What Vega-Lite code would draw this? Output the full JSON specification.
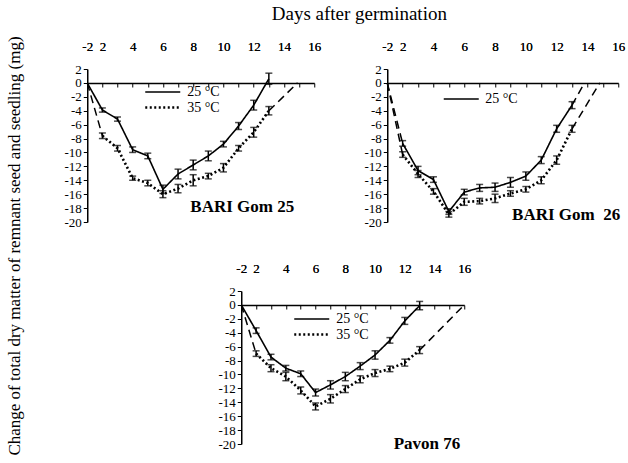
{
  "$schema": "https://vega.github.io/schema/vega-lite/v6.json",
  "padding": {"left": 5, "top": 5, "right": 3, "bottom": 5},
  "config": {
    "font": "Liberation Serif",
    "view": {"stroke": null},
    "axis": {"domainColor": "black", "tickColor": "black", "labelColor": "black", "labelFont": "Liberation Serif", "labelFontSize": 13, "grid": false, "labelOverlap": false, "labelBound": false, "labelFlush": false},
    "legend": {"labelFont": "Liberation Serif", "labelFontSize": 14, "labelColor": "black", "symbolType": "M-2.5,0H2.5", "symbolSize": 196, "symbolStrokeWidth": 2, "symbolStrokeColor": "black", "padding": 0, "rowPadding": 0, "labelOffset": 16, "title": null},
    "title": {"font": "Liberation Serif", "color": "black"}
  },
  "datasets": {
    "pts": [
      {"panel": "G25", "temp": "25 °C", "day": 1, "val": 0, "err": 0},
      {"panel": "G25", "temp": "25 °C", "day": 2, "val": -3.9, "err": 0.3},
      {"panel": "G25", "temp": "25 °C", "day": 3, "val": -5.2, "err": 0.3},
      {"panel": "G25", "temp": "25 °C", "day": 4, "val": -9.6, "err": 0.4},
      {"panel": "G25", "temp": "25 °C", "day": 5, "val": -10.5, "err": 0.4},
      {"panel": "G25", "temp": "25 °C", "day": 6, "val": -15.3, "err": 0.6},
      {"panel": "G25", "temp": "25 °C", "day": 7, "val": -13.1, "err": 0.7},
      {"panel": "G25", "temp": "25 °C", "day": 8, "val": -11.8, "err": 0.7},
      {"panel": "G25", "temp": "25 °C", "day": 9, "val": -10.5, "err": 0.7},
      {"panel": "G25", "temp": "25 °C", "day": 10, "val": -8.8, "err": 0.4},
      {"panel": "G25", "temp": "25 °C", "day": 11, "val": -6.2, "err": 0.5},
      {"panel": "G25", "temp": "25 °C", "day": 12, "val": -3.2, "err": 0.7},
      {"panel": "G25", "temp": "25 °C", "day": 13, "val": 0.6, "err": 0.8},
      {"panel": "G25", "temp": "35 °C", "day": 2, "val": -7.6, "err": 0.4},
      {"panel": "G25", "temp": "35 °C", "day": 3, "val": -9.4, "err": 0.4},
      {"panel": "G25", "temp": "35 °C", "day": 4, "val": -13.7, "err": 0.3},
      {"panel": "G25", "temp": "35 °C", "day": 5, "val": -14.4, "err": 0.4},
      {"panel": "G25", "temp": "35 °C", "day": 6, "val": -16.0, "err": 0.5},
      {"panel": "G25", "temp": "35 °C", "day": 7, "val": -15.2, "err": 0.6},
      {"panel": "G25", "temp": "35 °C", "day": 8, "val": -14.0, "err": 0.8},
      {"panel": "G25", "temp": "35 °C", "day": 9, "val": -13.4, "err": 0.4},
      {"panel": "G25", "temp": "35 °C", "day": 10, "val": -12.2, "err": 0.6},
      {"panel": "G25", "temp": "35 °C", "day": 11, "val": -9.4, "err": 0.4},
      {"panel": "G25", "temp": "35 °C", "day": 12, "val": -7.1, "err": 0.7},
      {"panel": "G25", "temp": "35 °C", "day": 13, "val": -4.0, "err": 0.6},
      {"panel": "G26", "temp": "25 °C", "day": 2, "val": -8.7, "err": 0.4},
      {"panel": "G26", "temp": "25 °C", "day": 3, "val": -12.6, "err": 0.6},
      {"panel": "G26", "temp": "25 °C", "day": 4, "val": -13.9, "err": 0.4},
      {"panel": "G26", "temp": "25 °C", "day": 5, "val": -18.5, "err": 0.4},
      {"panel": "G26", "temp": "25 °C", "day": 6, "val": -15.7, "err": 0.4},
      {"panel": "G26", "temp": "25 °C", "day": 7, "val": -15.1, "err": 0.5},
      {"panel": "G26", "temp": "25 °C", "day": 8, "val": -15.0, "err": 0.6},
      {"panel": "G26", "temp": "25 °C", "day": 9, "val": -14.3, "err": 0.7},
      {"panel": "G26", "temp": "25 °C", "day": 10, "val": -13.4, "err": 0.6},
      {"panel": "G26", "temp": "25 °C", "day": 11, "val": -11.1, "err": 0.5},
      {"panel": "G26", "temp": "25 °C", "day": 12, "val": -6.6, "err": 0.5},
      {"panel": "G26", "temp": "25 °C", "day": 13, "val": -3.2, "err": 0.5},
      {"panel": "G26", "temp": "35 °C", "day": 2, "val": -10.3, "err": 0.4},
      {"panel": "G26", "temp": "35 °C", "day": 3, "val": -13.1, "err": 0.5},
      {"panel": "G26", "temp": "35 °C", "day": 4, "val": -15.6, "err": 0.4},
      {"panel": "G26", "temp": "35 °C", "day": 5, "val": -18.9, "err": 0.4},
      {"panel": "G26", "temp": "35 °C", "day": 6, "val": -17.1, "err": 0.5},
      {"panel": "G26", "temp": "35 °C", "day": 7, "val": -17.0, "err": 0.4},
      {"panel": "G26", "temp": "35 °C", "day": 8, "val": -16.6, "err": 0.6},
      {"panel": "G26", "temp": "35 °C", "day": 9, "val": -15.9, "err": 0.4},
      {"panel": "G26", "temp": "35 °C", "day": 10, "val": -15.3, "err": 0.4},
      {"panel": "G26", "temp": "35 °C", "day": 11, "val": -14.0, "err": 0.5},
      {"panel": "G26", "temp": "35 °C", "day": 12, "val": -11.1, "err": 0.6},
      {"panel": "G26", "temp": "35 °C", "day": 13, "val": -6.6, "err": 0.5},
      {"panel": "P76", "temp": "25 °C", "day": 1, "val": 0, "err": 0},
      {"panel": "P76", "temp": "25 °C", "day": 2, "val": -3.7, "err": 0.4},
      {"panel": "P76", "temp": "25 °C", "day": 3, "val": -7.5, "err": 0.4},
      {"panel": "P76", "temp": "25 °C", "day": 4, "val": -9.1, "err": 0.4},
      {"panel": "P76", "temp": "25 °C", "day": 5, "val": -9.9, "err": 0.4},
      {"panel": "P76", "temp": "25 °C", "day": 6, "val": -12.6, "err": 0.5},
      {"panel": "P76", "temp": "25 °C", "day": 7, "val": -11.5, "err": 0.6},
      {"panel": "P76", "temp": "25 °C", "day": 8, "val": -10.3, "err": 0.6},
      {"panel": "P76", "temp": "25 °C", "day": 9, "val": -8.8, "err": 0.5},
      {"panel": "P76", "temp": "25 °C", "day": 10, "val": -7.2, "err": 0.6},
      {"panel": "P76", "temp": "25 °C", "day": 11, "val": -5.1, "err": 0.4},
      {"panel": "P76", "temp": "25 °C", "day": 12, "val": -2.3, "err": 0.5},
      {"panel": "P76", "temp": "25 °C", "day": 13, "val": -0.1, "err": 0.6},
      {"panel": "P76", "temp": "35 °C", "day": 2, "val": -7.0, "err": 0.4},
      {"panel": "P76", "temp": "35 °C", "day": 3, "val": -9.1, "err": 0.5},
      {"panel": "P76", "temp": "35 °C", "day": 4, "val": -10.3, "err": 0.6},
      {"panel": "P76", "temp": "35 °C", "day": 5, "val": -12.3, "err": 0.5},
      {"panel": "P76", "temp": "35 °C", "day": 6, "val": -14.6, "err": 0.5},
      {"panel": "P76", "temp": "35 °C", "day": 7, "val": -13.5, "err": 0.6},
      {"panel": "P76", "temp": "35 °C", "day": 8, "val": -12.1, "err": 0.5},
      {"panel": "P76", "temp": "35 °C", "day": 9, "val": -10.7, "err": 0.5},
      {"panel": "P76", "temp": "35 °C", "day": 10, "val": -9.8, "err": 0.5},
      {"panel": "P76", "temp": "35 °C", "day": 11, "val": -9.2, "err": 0.4},
      {"panel": "P76", "temp": "35 °C", "day": 12, "val": -8.3, "err": 0.5},
      {"panel": "P76", "temp": "35 °C", "day": 13, "val": -6.5, "err": 0.5}
    ],
    "ext": [
      {"panel": "G25", "seg": "a", "day": 1, "val": 0},
      {"panel": "G25", "seg": "a", "day": 2, "val": -7.6},
      {"panel": "G25", "seg": "b", "day": 13, "val": -4.0},
      {"panel": "G25", "seg": "b", "day": 14.9, "val": 0},
      {"panel": "G26", "seg": "a", "day": 1, "val": 0},
      {"panel": "G26", "seg": "a", "day": 2, "val": -8.7},
      {"panel": "G26", "seg": "b", "day": 1, "val": 0},
      {"panel": "G26", "seg": "b", "day": 2, "val": -10.3},
      {"panel": "G26", "seg": "c", "day": 13, "val": -3.2},
      {"panel": "G26", "seg": "c", "day": 13.8, "val": 0},
      {"panel": "G26", "seg": "d", "day": 13, "val": -6.6},
      {"panel": "G26", "seg": "d", "day": 14.8, "val": 0},
      {"panel": "P76", "seg": "a", "day": 1, "val": 0},
      {"panel": "P76", "seg": "a", "day": 2, "val": -7.0},
      {"panel": "P76", "seg": "b", "day": 13, "val": -6.5},
      {"panel": "P76", "seg": "b", "day": 16, "val": 0}
    ]
  },
  "title": {"text": "Days after germination", "font": "Liberation Serif", "fontSize": 19, "fontWeight": "normal", "anchor": "middle", "offset": 12, "dx": 44},
  "vconcat": [
    {
      "title": {"text": "Change of total dry matter of remnant seed and seedling (mg)", "font": "Liberation Serif", "orient": "left", "anchor": "middle", "fontSize": 17, "fontWeight": "normal", "offset": 40},
      "spacing": 33,
      "center": true,
      "resolve": {"scale": {"strokeDash": "independent", "strokeWidth": "independent"}, "legend": {"strokeDash": "independent"}},
      "vconcat": [
        {
          "spacing": 42,
          "resolve": {"scale": {"strokeDash": "independent", "strokeWidth": "independent"}, "legend": {"strokeDash": "independent"}},
          "hconcat": [
            {
              "width": 227, "height": 153,
              "title": {"text": "BARI Gom 25", "font": "Liberation Serif", "orient": "bottom", "anchor": "end", "frame": "group", "offset": -30, "dx": -20, "fontSize": 17, "fontWeight": "bold"},
              "encoding": {
                "x": {"field": "day", "type": "quantitative", "scale": {"domain": [1, 16], "nice": false, "zero": false},
                      "axis": {"orient": "top", "title": null, "labelFont": "Liberation Serif", "values": [1, 2, 4, 6, 8, 10, 12, 14, 16], "labelExpr": "datum.value == 1 ? '-2' : '' + datum.value", "ticks": false, "domain": false, "labelPadding": 16}},
                "y": {"field": "val", "type": "quantitative", "scale": {"domain": [-20, 2], "nice": false, "zero": false},
                      "axis": {"title": null, "labelFont": "Liberation Serif", "values": [-20, -18, -16, -14, -12, -10, -8, -6, -4, -2, 0, 2], "labelExpr": "'' + datum.value", "tickSize": 4, "labelPadding": 2, "domainWidth": 1.5}}
              },
              "layer": [
                {
                  "data": {"name": "pts"},
                  "transform": [{"filter": "datum.panel == 'G25'"}],
                  "mark": {"type": "line", "color": "black"},
                  "encoding": {
                    "strokeDash": {"field": "temp", "type": "nominal", "scale": {"domain": ["25 °C", "35 °C"], "range": [[1, 0], [2, 2.5]]},
                                   "legend": {"orient": "none", "legendX": 67, "legendY": 15}},
                    "strokeWidth": {"field": "temp", "type": "ordinal", "scale": {"domain": ["25 °C", "35 °C"], "range": [1.6, 2.6]}, "legend": null}
                  }
                },
                {
                  "data": {"name": "pts"},
                  "transform": [{"filter": "datum.panel == 'G25' && datum.err > 0"}],
                  "mark": {"type": "errorbar", "ticks": {"size": 7}, "thickness": 1.5, "color": "black"},
                  "encoding": {"yError": {"field": "err"}}
                },
                {
                  "data": {"name": "ext"},
                  "transform": [{"filter": "datum.panel == 'G25'"}],
                  "mark": {"type": "line", "color": "black", "strokeWidth": 1.5, "strokeDash": [8, 5]},
                  "encoding": {
                    "x": {"field": "day", "type": "quantitative", "axis": {"orient": "bottom", "title": null, "offset": -139, "labels": false, "values": [1, 2, 3, 4, 5, 6, 7, 8, 9, 10, 11, 12, 13, 14, 15, 16], "tickSize": 4, "domainWidth": 1.5}},
                    "detail": {"field": "seg"}
                  }
                }
              ]
            },
            {
              "width": 231, "height": 153,
              "title": {"text": "BARI Gom\u00a0 26", "font": "Liberation Serif", "orient": "bottom", "anchor": "end", "frame": "group", "offset": -22, "dx": 2, "fontSize": 17, "fontWeight": "bold"},
              "encoding": {
                "x": {"field": "day", "type": "quantitative", "scale": {"domain": [1, 16], "nice": false, "zero": false},
                      "axis": {"orient": "top", "title": null, "labelFont": "Liberation Serif", "values": [1, 2, 4, 6, 8, 10, 12, 14, 16], "labelExpr": "datum.value == 1 ? '-2' : '' + datum.value", "ticks": false, "domain": false, "labelPadding": 16}},
                "y": {"field": "val", "type": "quantitative", "scale": {"domain": [-20, 2], "nice": false, "zero": false},
                      "axis": {"title": null, "labelFont": "Liberation Serif", "values": [-20, -18, -16, -14, -12, -10, -8, -6, -4, -2, 0, 2], "labelExpr": "'' + datum.value", "tickSize": 4, "labelPadding": 2, "domainWidth": 1.5}}
              },
              "layer": [
                {
                  "data": {"name": "pts"},
                  "transform": [{"filter": "datum.panel == 'G26'"}],
                  "mark": {"type": "line", "color": "black"},
                  "encoding": {
                    "strokeDash": {"field": "temp", "type": "nominal", "scale": {"domain": ["25 °C", "35 °C"], "range": [[1, 0], [2, 2.5]]},
                                   "legend": {"orient": "none", "legendX": 66, "legendY": 22, "values": ["25 °C"]}},
                    "strokeWidth": {"field": "temp", "type": "ordinal", "scale": {"domain": ["25 °C", "35 °C"], "range": [1.6, 2.6]}, "legend": null}
                  }
                },
                {
                  "data": {"name": "pts"},
                  "transform": [{"filter": "datum.panel == 'G26' && datum.err > 0"}],
                  "mark": {"type": "errorbar", "ticks": {"size": 7}, "thickness": 1.5, "color": "black"},
                  "encoding": {"yError": {"field": "err"}}
                },
                {
                  "data": {"name": "ext"},
                  "transform": [{"filter": "datum.panel == 'G26'"}],
                  "mark": {"type": "line", "color": "black", "strokeWidth": 1.5, "strokeDash": [8, 5]},
                  "encoding": {
                    "x": {"field": "day", "type": "quantitative", "axis": {"orient": "bottom", "title": null, "offset": -139, "labels": false, "values": [1, 2, 3, 4, 5, 6, 7, 8, 9, 10, 11, 12, 13, 14, 15, 16], "tickSize": 4, "domainWidth": 1.5}},
                    "detail": {"field": "seg"}
                  }
                }
              ]
            }
          ]
        },
        {
          "width": 223, "height": 153,
          "title": {"text": "Pavon 76", "font": "Liberation Serif", "orient": "bottom", "anchor": "end", "frame": "group", "offset": -15, "dx": -4, "fontSize": 17, "fontWeight": "bold"},
          "encoding": {
            "x": {"field": "day", "type": "quantitative", "scale": {"domain": [1, 16], "nice": false, "zero": false},
                  "axis": {"orient": "top", "title": null, "labelFont": "Liberation Serif", "values": [1, 2, 4, 6, 8, 10, 12, 14, 16], "labelExpr": "datum.value == 1 ? '-2' : '' + datum.value", "ticks": false, "domain": false, "labelPadding": 16}},
            "y": {"field": "val", "type": "quantitative", "scale": {"domain": [-20, 2], "nice": false, "zero": false},
                  "axis": {"title": null, "labelFont": "Liberation Serif", "values": [-20, -18, -16, -14, -12, -10, -8, -6, -4, -2, 0, 2], "labelExpr": "'' + datum.value", "tickSize": 4, "labelPadding": 2, "domainWidth": 1.5}}
          },
          "layer": [
            {
              "data": {"name": "pts"},
              "transform": [{"filter": "datum.panel == 'P76'"}],
              "mark": {"type": "line", "color": "black"},
              "encoding": {
                "strokeDash": {"field": "temp", "type": "nominal", "scale": {"domain": ["25 °C", "35 °C"], "range": [[1, 0], [2, 2.5]]},
                               "legend": {"orient": "none", "legendX": 62, "legendY": 20}},
                "strokeWidth": {"field": "temp", "type": "ordinal", "scale": {"domain": ["25 °C", "35 °C"], "range": [1.6, 2.6]}, "legend": null}
              }
            },
            {
              "data": {"name": "pts"},
              "transform": [{"filter": "datum.panel == 'P76' && datum.err > 0"}],
              "mark": {"type": "errorbar", "ticks": {"size": 7}, "thickness": 1.5, "color": "black"},
              "encoding": {"yError": {"field": "err"}}
            },
            {
              "data": {"name": "ext"},
              "transform": [{"filter": "datum.panel == 'P76'"}],
              "mark": {"type": "line", "color": "black", "strokeWidth": 1.5, "strokeDash": [8, 5]},
              "encoding": {
                "x": {"field": "day", "type": "quantitative", "axis": {"orient": "bottom", "title": null, "offset": -139, "labels": false, "values": [1, 2, 3, 4, 5, 6, 7, 8, 9, 10, 11, 12, 13, 14, 15, 16], "tickSize": 4, "domainWidth": 1.5}},
                "detail": {"field": "seg"}
              }
            }
          ]
        }
      ]
    }
  ]
}
